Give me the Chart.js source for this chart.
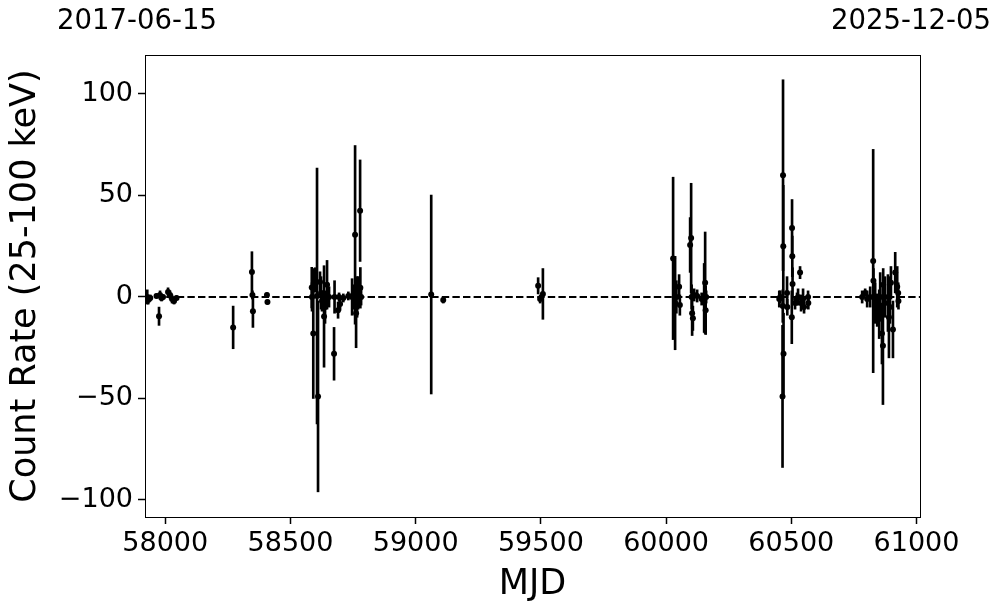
<!DOCTYPE html>
<html>
<head>
<meta charset="utf-8">
<script src="https://cdn.jsdelivr.net/npm/chart.js@4.4.1/dist/chart.umd.min.js"></script>
<style>
  body { margin: 0; background: #fff; }
  #wrap { width: 997px; height: 613px; }
</style>
</head>
<body>
<div id="wrap"><canvas id="myChart" width="997" height="613"></canvas></div>
<script>
// observation dates (MJD), count rate and 1-sigma error
var mjd = [
  57928, 57932, 57940, 57965, 57975, 57979, 57985, 57991, 58011, 58019, 58027, 58035, 58045,
  58271, 58346, 58348, 58350, 58406, 58408,
  58585, 58586, 58591, 58599, 58606, 58610, 58618, 58622, 58626, 58634, 58638, 58646, 58654,
  58674, 58676, 58690, 58694, 58698, 58711, 58731, 58746, 58750, 58754, 58758, 58762, 58766,
  58770, 58778, 58779, 58782,
  59062, 59110,
  59489, 59497, 59508,
  60028, 60036, 60041, 60052, 60055, 60096, 60100, 60102, 60104, 60107, 60112, 60124, 60142,
  60152, 60156, 60158, 60160,
  60452, 60456, 60465, 60466, 60467, 60468, 60469, 60483, 60484, 60502, 60503, 60504, 60505,
  60515, 60523, 60527, 60535, 60539, 60547, 60551, 60567, 60568,
  60783, 60795, 60803, 60815, 60827, 60828, 60835, 60843, 60851, 60855, 60862, 60866, 60867,
  60874, 60886, 60890, 60894, 60898, 60906, 60915, 60923, 60927, 60928
];
var rate = [
  0, -1.5, -0.5, 0.5, -9.5, 1, -0.5, 0, 2.5, 1, -1, -2, -0.5,
  -15, 12.3, 1, -7, 1, -2.5,
  4.6, 0, -18, 8.4, 0.5, -49, 7.4, 2, -2, -9.6, -5, 6, 0,
  -28, 0, -6.5, 0, -3.5, -0.5, 0.5, 0, 1, -2, 30.6, -8, 0,
  2, 42.5, 4.5, 0,
  1.2, -1.5,
  5.5, -1, 1.5,
  19, -3, 0, 5, -4, 25.6, 29, 0, -8, -10.5, 1, 0.5, -1,
  -0.5, 7, -6.5, 0,
  -1, 0, -49, -4.5, 60, 25, -28, 2, -5, -10, 34, 20, 6.4,
  -3, -1, 0, 12, -3, -1, -5, 0, -3,
  0, 2, -1, 0, 17.7, 8, -3, -6.5, -8.5, 0, -18, -24, 6,
  0, -3, -10, -5, 7, -16, 12, 5, 2, -2
];
var rateErr = [
  3.5, 2, 1.5, 1, 4.5, 2, 1.5, 1, 2, 2, 2, 1.5, 1,
  10.5, 10, 2, 8, 1, 1,
  10, 7, 32, 6, 63, 47, 5, 8, 5, 25, 8, 12, 5,
  13, 8, 4, 2, 3, 2, 2, 9, 5, 4, 44, 17, 10,
  8, 25, 10, 4,
  49, 1.5,
  4, 2, 12.5,
  40, 23, 8, 6, 5, 13.5, 27, 6, 11, 6, 3, 3, 3,
  17, 25, 12, 3,
  4, 3, 35, 8, 47, 30, 20, 8, 4, 13, 14, 10, 8,
  3, 3, 4, 3, 4, 5, 3, 3, 3,
  3, 2, 4, 5, 55, 6, 10, 8, 12, 12, 15, 29, 8,
  10, 14, 20, 8, 8, 14, 10, 10, 5, 4
];

var xRange = [57919, 61014];
var yRange = [-108.4, 119.2];
var xTicks = [58000, 58500, 59000, 59500, 60000, 60500, 61000];
var yTicks = [-100, -50, 0, 50, 100];
var dateLabels = ['2017-06-15', '2025-12-05'];

var points = [];
var bars = [];
for (var i = 0; i < mjd.length; i++) {
  points.push({x: mjd[i], y: rate[i]});
  bars.push({x: mjd[i], y: [rate[i] - rateErr[i], rate[i] + rateErr[i]]});
}

function fmtMinus(v) {
  return v < 0 ? '\u2212' + Math.abs(v) : '' + v;
}

var framePlugin = {
  id: 'frame',
  afterDraw: function(chart) {
    var ctx = chart.ctx;
    var a = chart.chartArea;
    ctx.save();
    ctx.strokeStyle = '#000';
    ctx.lineWidth = 1;
    ctx.strokeRect(a.left + 0.5, a.top + 0.5, a.right - a.left, a.bottom - a.top);
    ctx.fillStyle = '#000';
    ctx.font = '27.5px "DejaVu Sans"';
    ctx.textAlign = 'center';
    ctx.textBaseline = 'middle';
    ctx.fillText(dateLabels[0], a.left - 8, 22);
    ctx.fillText(dateLabels[1], a.right - 9, 22);
    ctx.restore();
  }
};

var ctx = document.getElementById('myChart').getContext('2d');
var myChart = new Chart(ctx, {
  type: 'scatter',
  data: {
    datasets: [{
      type: 'line',
      data: [{x: xRange[0], y: 0}, {x: xRange[1], y: 0}],
      borderColor: '#000',
      borderWidth: 2,
      borderDash: [7.4, 3.2],
      pointRadius: 0,
      order: 3
    }, {
      type: 'bar',
      data: bars,
      backgroundColor: '#000',
      borderWidth: 0,
      barThickness: 2,
      order: 2
    }, {
      type: 'scatter',
      data: points,
      backgroundColor: '#000',
      borderColor: '#000',
      pointRadius: 3,
      borderWidth: 0,
      order: 1
    }]
  },
  options: {
    responsive: false,
    animation: false,
    events: [],
    layout: { padding: { left: 0, right: 77, top: 55, bottom: 0 } },
    plugins: {
      legend: { display: false },
      tooltip: { enabled: false }
    },
    scales: {
      x: {
        type: 'linear',
        min: xRange[0],
        max: xRange[1],
        offset: false,
        afterBuildTicks: function(scale) {
          scale.ticks = xTicks.map(function(v) { return {value: v}; });
        },
        afterFit: function(scale) { scale.height = 96; },
        grid: { drawOnChartArea: false, drawTicks: true, tickLength: 7, tickWidth: 1.5, tickColor: '#000', offset: false },
        border: { display: true, color: '#000', width: 1 },
        ticks: {
          color: '#000',
          font: { family: 'DejaVu Sans', size: 27 },
          padding: 4,
          maxRotation: 0,
          callback: function(v) { return '' + v; }
        },
        title: {
          display: true,
          text: 'MJD',
          color: '#000',
          font: { family: 'DejaVu Sans', size: 35 },
          padding: { top: 0, bottom: 7 }
        }
      },
      y: {
        type: 'linear',
        min: yRange[0],
        max: yRange[1],
        beginAtZero: false,
        afterBuildTicks: function(scale) {
          scale.ticks = yTicks.map(function(v) { return {value: v}; });
        },
        afterFit: function(scale) { scale.width = 145; },
        grid: { drawOnChartArea: false, drawTicks: true, tickLength: 7, tickWidth: 1.5, tickColor: '#000' },
        border: { display: true, color: '#000', width: 1 },
        ticks: {
          color: '#000',
          font: { family: 'DejaVu Sans', size: 27 },
          padding: 5,
          callback: function(v) { return fmtMinus(v); }
        },
        title: {
          display: true,
          text: 'Count Rate (25-100 keV)',
          color: '#000',
          font: { family: 'DejaVu Sans', size: 35 },
          padding: { top: 5, bottom: 0 }
        }
      }
    }
  },
  plugins: [framePlugin]
});
</script>
</body>
</html>
